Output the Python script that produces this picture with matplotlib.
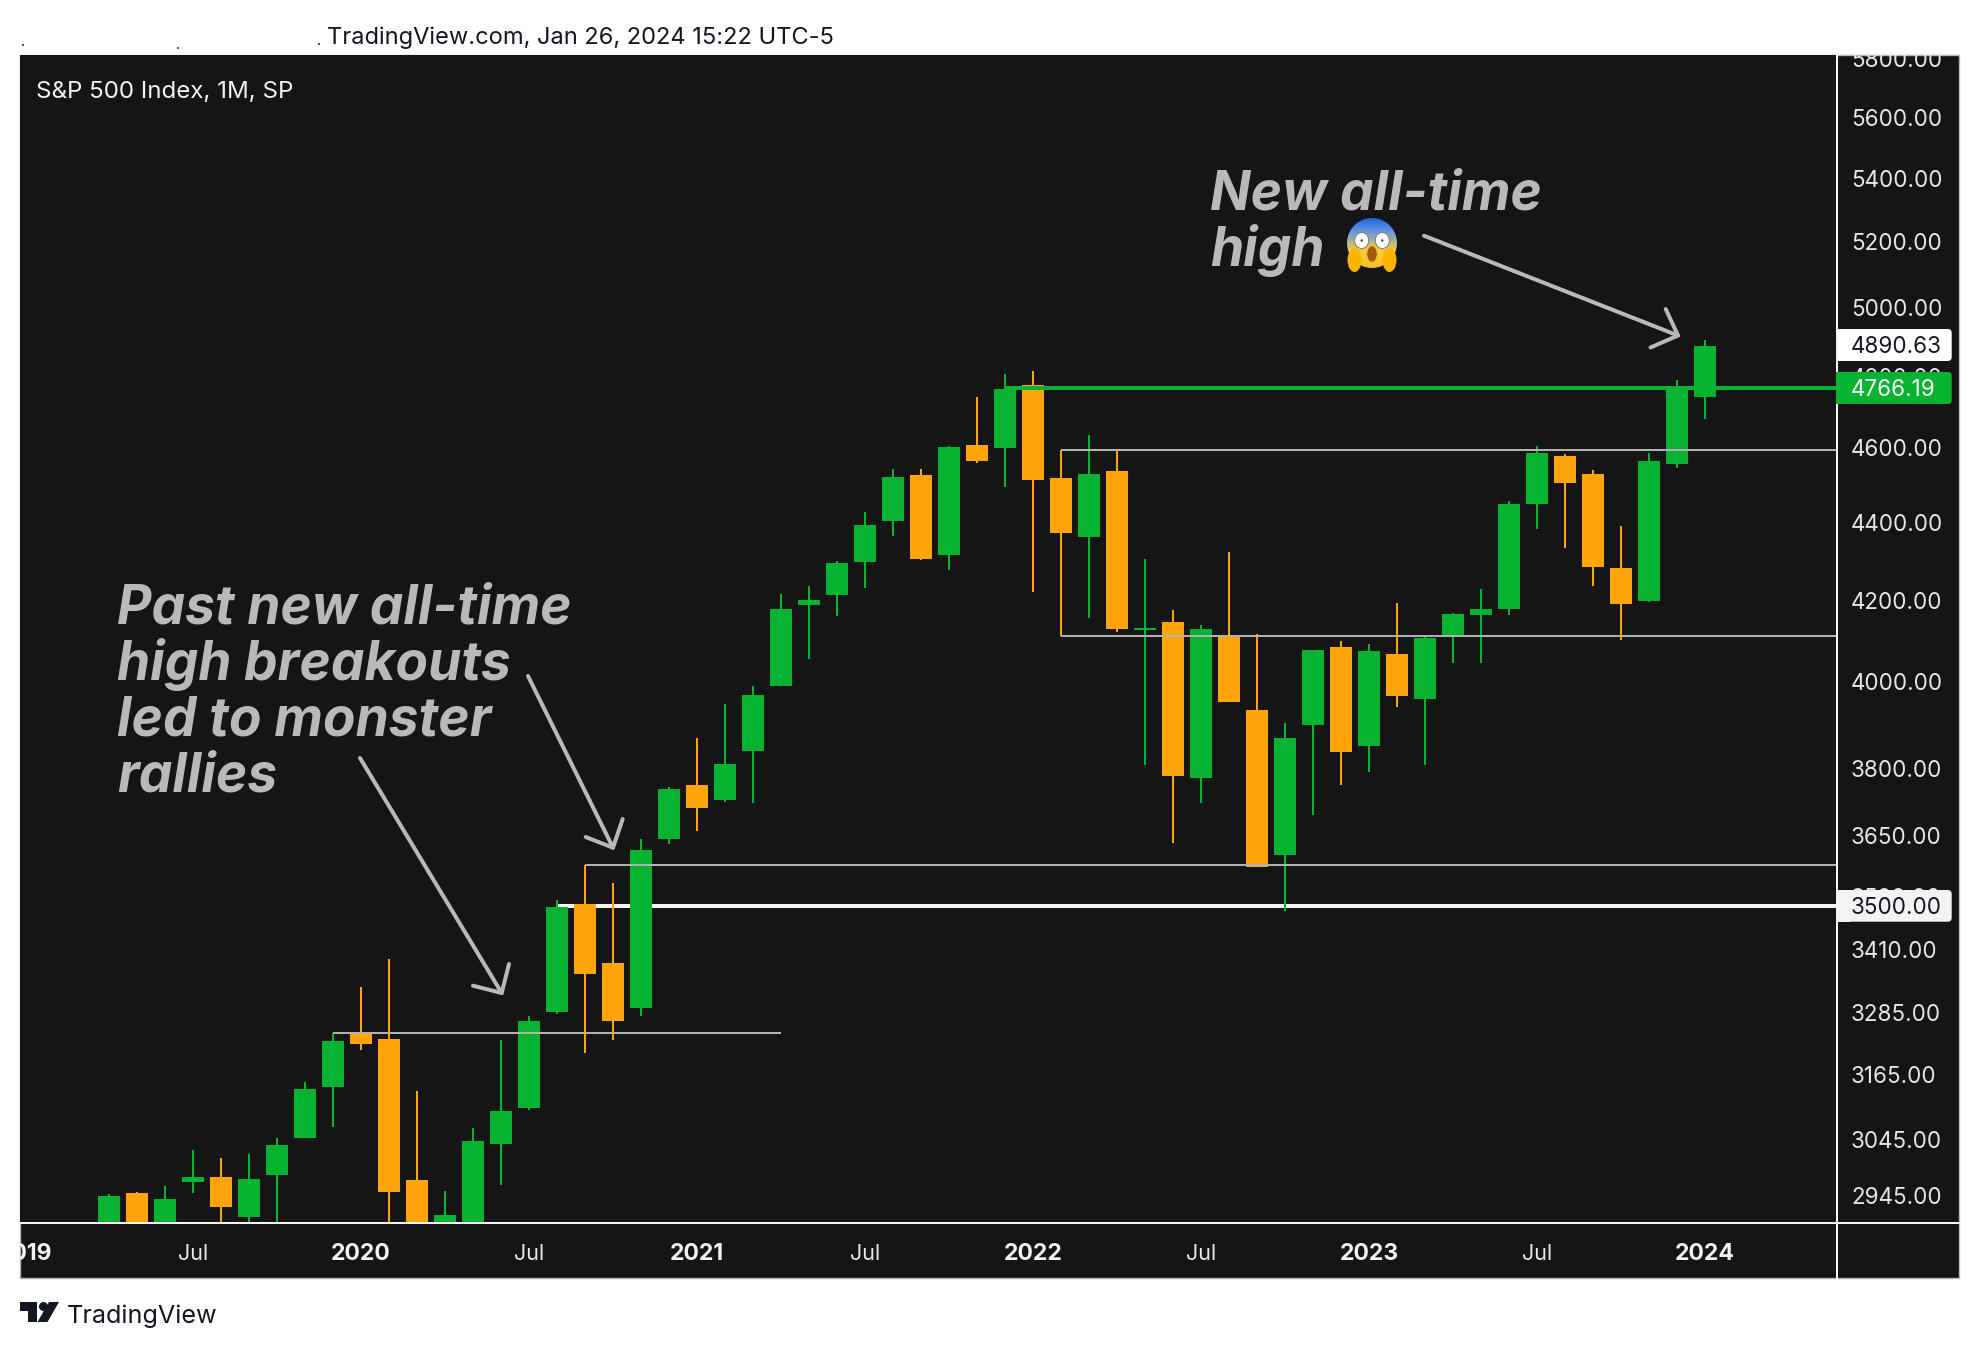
import numpy as np
import matplotlib
matplotlib.use("Agg")
import matplotlib.pyplot as plt
from matplotlib.lines import Line2D
from matplotlib.patches import Rectangle, FancyBboxPatch, Polygon, Circle, Ellipse
from matplotlib.transforms import Affine2D, Bbox
from matplotlib.ticker import NullLocator, NullFormatter

W, H = 1980, 1348

# Monthly candles, Apr 2019 .. Jan 2024
opens = [2848.63, 2952.33, 2751.53, 2971.41, 2980.32, 2909.01, 2983.69, 3050.72, 3143.85,
         3244.67, 3235.66, 2974.28, 2498.08, 2869.09, 3038.78, 3105.92, 3288.26, 3507.44,
         3385.87, 3296.20, 3645.87, 3764.61, 3731.17, 3842.51, 3992.78, 4191.98, 4216.52,
         4300.73, 4406.86, 4528.80, 4317.16, 4610.62, 4602.82, 4778.14, 4519.57, 4363.14,
         4540.32, 4130.61, 4149.78, 3781.00, 4112.38, 3936.73, 3609.78, 3901.79, 4087.14,
         3853.29, 4070.07, 3963.34, 4112.38, 4166.79, 4181.03, 4450.48, 4578.83, 4530.60,
         4284.52, 4201.27, 4559.43, 4745.20]
highs = [2949.52, 2954.13, 2964.15, 3027.98, 3013.59, 3021.99, 3050.10, 3154.26, 3247.93,
         3337.77, 3393.52, 3136.72, 2954.86, 3068.67, 3233.13, 3279.99, 3514.77, 3588.11,
         3549.85, 3645.99, 3760.20, 3870.90, 3950.43, 3994.41, 4218.78, 4238.04, 4302.43,
         4429.97, 4545.85, 4545.85, 4608.08, 4743.83, 4808.93, 4818.62, 4595.31, 4637.30,
         4593.45, 4307.66, 4177.51, 4140.15, 4325.28, 4119.28, 3905.42, 4080.11, 4100.96,
         4094.21, 4195.44, 4110.75, 4170.06, 4231.10, 4458.48, 4607.07, 4584.62, 4541.25,
         4393.57, 4587.64, 4793.30, 4906.69]
lows = [2848.63, 2750.52, 2728.81, 2952.22, 2822.12, 2891.85, 2855.94, 3050.72, 3070.33,
        3214.64, 2855.84, 2191.86, 2447.49, 2766.64, 2965.66, 3101.17, 3284.53, 3209.45,
        3233.94, 3279.74, 3633.40, 3662.71, 3725.62, 3723.34, 3992.78, 4056.88, 4164.40,
        4233.13, 4367.73, 4305.91, 4278.94, 4560.00, 4495.12, 4222.62, 4114.65, 4157.87,
        4124.28, 3810.32, 3636.87, 3723.29, 3954.53, 3584.13, 3491.58, 3698.15, 3764.49,
        3794.33, 3943.08, 3808.86, 4049.35, 4048.28, 4166.15, 4385.05, 4335.31, 4238.63,
        4103.78, 4197.74, 4546.50, 4682.11]
closes = [2945.83, 2752.06, 2941.76, 2980.38, 2926.46, 2976.74, 3037.56, 3140.98, 3230.78,
          3225.52, 2954.22, 2584.59, 2912.43, 3044.31, 3100.29, 3271.12, 3500.31, 3363.00,
          3269.96, 3621.63, 3756.07, 3714.24, 3811.15, 3972.89, 4181.17, 4204.11, 4297.50,
          4395.26, 4522.68, 4307.54, 4605.38, 4567.00, 4766.18, 4515.55, 4373.94, 4530.41,
          4131.93, 4132.15, 3785.38, 4130.29, 3955.00, 3585.62, 3871.98, 4080.11, 3839.50,
          4076.60, 3970.15, 4109.31, 4169.48, 4179.83, 4450.38, 4588.96, 4507.66, 4288.05,
          4193.80, 4567.80, 4769.83, 4890.63]

price_ticks = [5800, 5600, 5400, 5200, 5000, 4800, 4600, 4400, 4200, 4000, 3800,
               3650, 3520, 3410, 3285, 3165, 3045, 2945]
time_ticks = [-3, 3, 9, 15, 21, 27, 33, 39, 45, 51, 57]
time_labels = ['2019', 'Jul', '2020', 'Jul', '2021', 'Jul', '2022', 'Jul', '2023', 'Jul', '2024']

level_grey = [(8, 24, 3247.93), (17, 65, 3588.11), (34, 65, 4595.31), (34, 65, 4114.65)]
level_white = (16, 65, 3503.0)
level_green = (32, 65, 4770.4)
tag_white = '3500.00'
tag_green = '4766.19'

BG = '#151516'
GREEN = '#07b331'
ORANGE = '#ffa50a'
GREY = '#b2b2b2'
ANN = '#b9b9b9'
WHITE = '#f5f5f5'
DARK = '#131722'

PX = 0.72
plt.rcParams['font.family'] = ['Inter', 'DejaVu Sans']

fig = plt.figure(figsize=(W / 100, H / 100), dpi=100, facecolor='white')
tpx = Affine2D().scale(1, -1).translate(0, H)

L, R, T, B = 20, 1836.5, 54.5, 1223
ax = fig.add_axes([L / W, 1 - B / H, (R - L) / W, (B - T) / H], facecolor=BG)
ax.set_yscale('log')
ax.set_xlim((L - 109) / 28, (R - 109) / 28)
ax.set_ylim(2899.4, 5818.6)

# panel behind everything
fig.add_artist(Rectangle((L, T), 1959 - L, 1278 - T, transform=tpx, facecolor=BG,
                         edgecolor='#b4b4bc', linewidth=1.0, zorder=-1))

idx = np.arange(len(opens))
o, h, l, c = map(np.array, (opens, highs, lows, closes))
cols = [GREEN if cc >= oo else ORANGE for oo, cc in zip(o, c)]

ax.hlines(level_white[2], level_white[0], level_white[1], color=WHITE, lw=4 * PX, zorder=1)
ax.vlines(idx, l, h, colors=cols, lw=2 * PX, zorder=2)
ax.bar(idx, np.abs(c - o), bottom=np.minimum(o, c), width=22 / 28, color=cols, linewidth=0, zorder=3)
thin = np.abs(c - o) < 4
ax.hlines((o[thin] + c[thin]) / 2, idx[thin] - 11 / 28, idx[thin] + 11 / 28, colors=GREEN, lw=2 * PX, zorder=3)
for x0, x1, p in level_grey:
    ax.hlines(p, x0, x1, color=GREY, lw=2 * PX, zorder=4)
ax.hlines(level_green[2], level_green[0], level_green[1], color=GREEN, lw=4 * PX, zorder=5)

# axes furniture
for s in ax.spines.values():
    s.set_visible(False)
ax.yaxis.tick_right()
ax.yaxis.set_minor_locator(NullLocator())
ax.yaxis.set_minor_formatter(NullFormatter())
ax.set_yticks(price_ticks)
ax.set_yticklabels([f'{p:.2f}' for p in price_ticks], fontsize=22.4 * PX, color='#e6e6e6')
ax.tick_params(axis='y', length=0, pad=14.5 * PX)
ax.set_xticks(time_ticks)
ax.set_xticklabels(time_labels, fontsize=21.5 * PX, color='#e6e6e6')
ax.tick_params(axis='x', length=0, pad=20.5 * PX)
clip = Bbox([[L, H - 1278], [1959, H - T]])
for lab in ax.get_xticklabels():
    if lab.get_text().isdigit():
        lab.set_fontweight('bold')
        lab.set_fontsize(23 * PX)
        lab.set_color('#f2f2f2')
    lab.set_clip_on(True)
    lab.set_clip_box(clip)
for lab in ax.get_yticklabels():
    lab.set_clip_on(True)
    lab.set_clip_box(clip)
    lab.set_transform(lab.get_transform() + Affine2D().translate(0, 1.2))

# pane separators
fig.add_artist(Line2D([1836.7, 1836.7], [T, 1278], transform=tpx, color=WHITE, lw=2 * PX, zorder=2))
fig.add_artist(Line2D([L, 1959], [1223.2, 1223.2], transform=tpx, color=WHITE, lw=2 * PX, zorder=2))


def tag(y0, y1, x0, colour, txt, tcolour):
    fig.add_artist(FancyBboxPatch((x0 + 6, y0 + 3), 1951.7 - x0 - 9, y1 - y0 - 6, transform=tpx,
                                  boxstyle='round,pad=3,rounding_size=4', facecolor=colour,
                                  edgecolor='none', linewidth=0, zorder=5))
    fig.add_artist(Rectangle((x0, y0), 12, y1 - y0, transform=tpx, facecolor=colour,
                             edgecolor='none', zorder=5))
    fig.text(1851, (y0 + y1) / 2 - 0.5, txt, transform=tpx, ha='left', va='center_baseline',
             fontsize=22.4 * PX, color=tcolour, zorder=6)


tag(329, 361, 1838, 'white', f'{closes[-1]:.2f}', DARK)
tag(372, 404, 1836, GREEN, tag_green, 'white')
tag(890, 921.7, 1838, '#f3f3f3', tag_white, DARK)

# header & footer
fig.text(327, 44, 'TradingView.com, Jan 26, 2024 15:22 UTC-5', transform=tpx, ha='left',
         va='baseline', fontsize=23.65 * PX, color=DARK)
fig.text(36, 98, 'S&P 500 Index, 1M, SP', transform=tpx, ha='left', va='baseline',
         fontsize=24.1 * PX, color='#f2f2f2')
fig.text(66.5, 1322.5, 'TradingView', transform=tpx, ha='left', va='baseline',
         fontsize=25.2 * PX, color=DARK)
for pts in ([(20, 1302), (37, 1302), (37, 1322), (28, 1322), (28, 1311), (20, 1311)],
            [(49, 1302), (59, 1302), (47.5, 1322), (37.5, 1322)]):
    fig.add_artist(Polygon(pts, closed=True, transform=tpx, facecolor=DARK, edgecolor='none', zorder=3))
fig.add_artist(Circle((43.5, 1306.5), 4.5, transform=tpx, facecolor=DARK, edgecolor='none', zorder=3))
for x, y in [(22, 44), (177, 47), (318, 43)]:
    fig.add_artist(Rectangle((x, y), 2, 1.5, transform=tpx, facecolor='#555555', edgecolor='none'))

# annotations
for ln, y in zip(['Past new all-time', 'high breakouts', 'led to monster', 'rallies'],
                 [624, 680, 736, 792]):
    fig.text(117, y, ln, transform=tpx, ha='left', va='baseline', fontsize=53.3 * PX,
             fontweight='bold', style='italic', color=ANN, zorder=4)
for ln, y in zip(['New all-time', 'high'], [210, 266]):
    fig.text(1210, y, ln, transform=tpx, ha='left', va='baseline', fontsize=53.3 * PX,
             fontweight='bold', style='italic', color=ANN, zorder=4)
fig.text(1372, 245, '\U0001F631', transform=tpx, ha='center', va='center', fontsize=40 * PX,
         family='DejaVu Sans', color='#f7c531', zorder=4)

arrows = [
    ([(360, 758), (501.7, 993)], [(473, 985.7), (501.7, 993), (509, 964)]),
    ([(528, 676), (613, 847.7)], [(585.7, 837), (613, 847.7), (622.7, 819)]),
    ([(1424, 235.7), (1678, 335.5)], [(1665.7, 309), (1678, 335.5), (1650.5, 347.5)]),
]
for shaft, head in arrows:
    for seg in (shaft, head):
        xs, ys = zip(*seg)
        fig.add_artist(Line2D(xs, ys, transform=tpx, color=ANN, lw=4 * PX, solid_capstyle='round',
                              solid_joinstyle='round', zorder=4))

# scream emoji as vector shapes
ex0, ey0, ex1, ey1 = 1345, 216, 1399, 274
eax = fig.add_axes([ex0 / W, 1 - ey1 / H, (ex1 - ex0) / W, (ey1 - ey0) / H], zorder=6)
eax.set_xlim(ex0, ex1)
eax.set_ylim(ey1, ey0)
eax.axis('off')
grad_pos = np.linspace(0, 1, 64)
stops = np.array([[0.10, 0.38, 0.90], [0.45, 0.62, 0.85], [0.98, 0.80, 0.25], [0.98, 0.72, 0.15]])
grad = np.stack([np.interp(grad_pos, [0, .3, .62, 1], stops[:, i]) for i in range(3)], axis=1)[:, None, :]
im = eax.imshow(grad, extent=(ex0, ex1, 272, 217), aspect='auto', zorder=1)
face = Circle((1372, 243), 25, transform=eax.transData)
im.set_clip_path(face)
for cx in (1361.7, 1382.3):
    eax.add_patch(Ellipse((cx, 240.5), 14, 16, facecolor='white', edgecolor='#77735f', lw=0.6, zorder=2))
    eax.add_patch(Circle((cx, 240.5), 1.2, facecolor='#444444', zorder=3))
eax.add_patch(Ellipse((1372, 254), 11, 17, facecolor='#a5590c', edgecolor='#f4c430', lw=1.0, zorder=2))
for cx in (1354.5, 1389.5):
    eax.add_patch(Ellipse((cx, 260), 14, 24, facecolor='#fbb400', edgecolor='none', zorder=3))

fig.savefig('out.png', dpi=100, facecolor='white')
